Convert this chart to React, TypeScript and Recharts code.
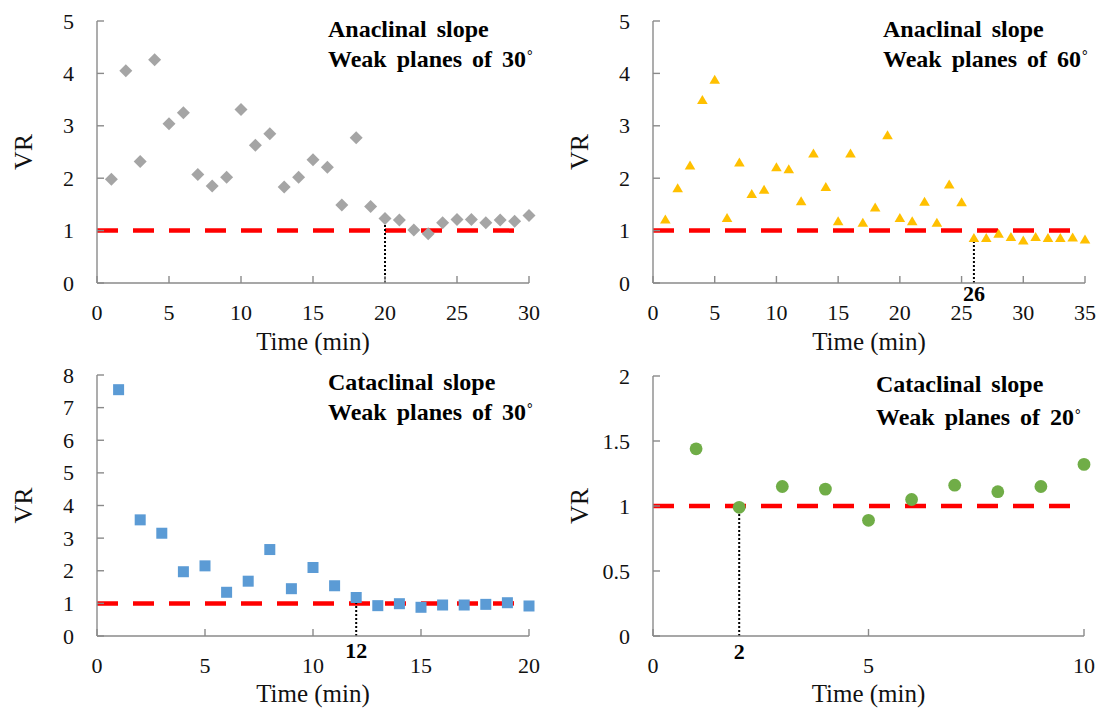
import React from 'react';
import { ScatterChart, Scatter, XAxis, YAxis, ReferenceLine, Label } from 'recharts';

const FONT = '"Liberation Serif", "Times New Roman", Times, serif';

// ---- Panel A: anaclinal slope, weak planes of 30°
const timeA = [1, 2, 3, 4, 5, 6, 7, 8, 9, 10, 11, 12, 13, 14, 15, 16, 17, 18, 19, 20, 21, 22, 23, 24, 25, 26, 27, 28, 29, 30];
const vrA = [1.98, 4.05, 2.32, 4.26, 3.04, 3.25, 2.07, 1.85, 2.02, 3.31, 2.63, 2.85, 1.83, 2.02, 2.35, 2.21, 1.49, 2.77, 1.46, 1.23, 1.2, 1.01, 0.94, 1.15, 1.21, 1.21, 1.15, 1.2, 1.18, 1.29];
const xTicksA = [0, 5, 10, 15, 20, 25, 30];
const yTicksA = [0, 1, 2, 3, 4, 5];

// ---- Panel B: anaclinal slope, weak planes of 60°
const timeB = [1, 2, 3, 4, 5, 6, 7, 8, 9, 10, 11, 12, 13, 14, 15, 16, 17, 18, 19, 20, 21, 22, 23, 24, 25, 26, 27, 28, 29, 30, 31, 32, 33, 34, 35];
const vrB = [1.21, 1.81, 2.24, 3.49, 3.88, 1.24, 2.3, 1.7, 1.78, 2.21, 2.17, 1.56, 2.47, 1.83, 1.18, 2.47, 1.15, 1.44, 2.82, 1.24, 1.18, 1.55, 1.15, 1.88, 1.54, 0.86, 0.86, 0.94, 0.88, 0.81, 0.88, 0.86, 0.86, 0.87, 0.83];
const xTicksB = [0, 5, 10, 15, 20, 25, 30, 35];
const yTicksB = [0, 1, 2, 3, 4, 5];

// ---- Panel C: cataclinal slope, weak planes of 30°
const timeC = [1, 2, 3, 4, 5, 6, 7, 8, 9, 10, 11, 12, 13, 14, 15, 16, 17, 18, 19, 20];
const vrC = [7.55, 3.56, 3.15, 1.97, 2.15, 1.34, 1.68, 2.65, 1.45, 2.1, 1.54, 1.18, 0.93, 0.99, 0.88, 0.95, 0.95, 0.97, 1.02, 0.92];
const xTicksC = [0, 5, 10, 15, 20];
const yTicksC = [0, 1, 2, 3, 4, 5, 6, 7, 8];

// ---- Panel D: cataclinal slope, weak planes of 20°
const timeD = [1, 2, 3, 4, 5, 6, 7, 8, 9, 10];
const vrD = [1.44, 0.99, 1.15, 1.13, 0.89, 1.05, 1.16, 1.11, 1.15, 1.32];
const xTicksD = [0, 5, 10];
const yTicksD = [0, 0.5, 1, 1.5, 2];

const THRESHOLD = 1;
const AXIS_GRAY = '#8a8a8a';
const TICK_LEN = 7;

const diamond = (p: any) => (
  <path d={`M${p.cx},${p.cy - 6.5}L${p.cx + 6.5},${p.cy}L${p.cx},${p.cy + 6.5}L${p.cx - 6.5},${p.cy}Z`} fill="#A5A5A5" />
);
const triangle = (p: any) => (
  <path d={`M${p.cx},${p.cy - 5}L${p.cx + 5.3},${p.cy + 4}L${p.cx - 5.3},${p.cy + 4}Z`} fill="#FFC000" />
);
const square = (p: any) => (
  <rect x={p.cx - 5.5} y={p.cy - 5.5} width={11} height={11} fill="#5B9BD5" />
);
const circle = (p: any) => <circle cx={p.cx} cy={p.cy} r={6.4} fill="#70AD47" />;

type PanelProps = {
  left: number;
  top: number;
  width: number;
  height: number;
  plotTop: number;
  plotHeight: number;
  yAxisWidth: number;
  rightMargin: number;
  xs: number[];
  ys: number[];
  xTicks: number[];
  yTicks: number[];
  shape: any;
  cutX: number;
  cutY: number;
  cutLabel?: string;
  cutLabelOffset?: number;
  titleA: string;
  titleB: string;
  titleLeft: number;
  titleTop: number;
  titleLH: number;
  xTitleBase: number;
};

function Panel(pp: PanelProps) {
  const data = pp.xs.map((x, i) => ({ x, y: pp.ys[i] }));
  const xAxisHeight = pp.height - pp.plotTop - pp.plotHeight;
  const axisY = pp.plotTop + pp.plotHeight;
  const axisX = pp.yAxisWidth;

  // x tick: inward tick mark plus label below the axis
  const XTick = (p: any) => (
    <g>
      <line x1={p.x} x2={p.x} y1={axisY} y2={axisY - TICK_LEN} stroke={AXIS_GRAY} strokeWidth={1.4} />
      <text x={p.x} y={axisY + 37} textAnchor="middle" fontFamily={FONT} fontSize={22} fill="#111">
        {p.payload.value}
      </text>
    </g>
  );

  // y tick: inward tick mark plus label left of the axis
  const YTick = (p: any) => (
    <g>
      <line x1={axisX} x2={axisX + TICK_LEN} y1={p.y} y2={p.y} stroke={AXIS_GRAY} strokeWidth={1.4} />
      <text x={axisX - 23} y={p.y + 7.5} textAnchor="end" fontFamily={FONT} fontSize={22} fill="#111">
        {p.payload.value}
      </text>
    </g>
  );

  return (
    <div style={{ position: 'absolute', left: pp.left, top: pp.top, width: pp.width, height: pp.height }}>
      <ScatterChart
        width={pp.width}
        height={pp.height}
        margin={{ top: pp.plotTop, right: pp.rightMargin, bottom: 0, left: 0 }}
      >
        <XAxis
          type="number"
          dataKey="x"
          domain={[pp.xTicks[0], pp.xTicks[pp.xTicks.length - 1]]}
          ticks={pp.xTicks}
          interval={0}
          height={xAxisHeight}
          axisLine={{ stroke: AXIS_GRAY, strokeWidth: 1.4 }}
          tickLine={false}
          tickSize={0}
          tickMargin={22}
          tick={XTick}
        >
          <Label
            content={(lp: any) => {
              const vb = lp.viewBox || {};
              return (
                <text
                  x={vb.x + vb.width / 2}
                  y={axisY + pp.xTitleBase}
                  textAnchor="middle"
                  fontFamily={FONT}
                  fontSize={25}
                  fill="#111"
                >
                  Time (min)
                </text>
              );
            }}
          />
        </XAxis>
        <YAxis
          type="number"
          dataKey="y"
          domain={[pp.yTicks[0], pp.yTicks[pp.yTicks.length - 1]]}
          ticks={pp.yTicks}
          interval={0}
          width={pp.yAxisWidth}
          axisLine={{ stroke: AXIS_GRAY, strokeWidth: 1.4 }}
          tickLine={false}
          tickSize={0}
          tickMargin={23}
          tick={YTick}
        >
          <Label
            content={(lp: any) => {
              const vb = lp.viewBox || {};
              const cx = axisX - 74;
              const cy = vb.y + vb.height / 2;
              return (
                <text
                  x={cx}
                  y={cy}
                  transform={`rotate(-90, ${cx}, ${cy})`}
                  textAnchor="middle"
                  dominantBaseline="central"
                  fontFamily={FONT}
                  fontSize={26}
                  fill="#111"
                >
                  VR
                </text>
              );
            }}
          />
        </YAxis>
        <Scatter data={data} shape={pp.shape} isAnimationActive={false} />
        <ReferenceLine
          y={THRESHOLD}
          stroke="#FF0000"
          strokeWidth={4.5}
          strokeDasharray="21 15"
        />
        <ReferenceLine
          segment={[
            { x: pp.cutX, y: 0 },
            { x: pp.cutX, y: pp.cutY },
          ]}
          stroke="#000"
          strokeWidth={2}
          strokeDasharray="2 2"
          label={
            pp.cutLabel
              ? (lp: any) => {
                  const vb = lp.viewBox || {};
                  const x = vb.x !== undefined ? vb.x + (vb.width || 0) / 2 : vb.x1;
                  return (
                    <text
                      x={x}
                      y={axisY + (pp.cutLabelOffset || 0)}
                      textAnchor="middle"
                      fontFamily={FONT}
                      fontSize={22}
                      fontWeight="bold"
                      fill="#000"
                    >
                      {pp.cutLabel}
                    </text>
                  );
                }
              : undefined
          }
        />
      </ScatterChart>
      <div
        style={{
          position: 'absolute',
          left: pp.titleLeft,
          top: pp.titleTop,
          fontFamily: FONT,
          fontWeight: 'bold',
          fontSize: 24,
          lineHeight: `${pp.titleLH}px`,
          color: '#000',
          whiteSpace: 'nowrap',
          wordSpacing: 4,
        }}
      >
        <div>{pp.titleA}</div>
        <div>
          {pp.titleB}
          <span style={{ fontSize: 14, verticalAlign: 'top', position: 'relative', top: -3, marginLeft: 1 }}>°</span>
        </div>
      </div>
    </div>
  );
}

export default function App() {
  return (
    <div
      style={{
        position: 'absolute',
        left: 0,
        top: 0,
        width: 1104,
        height: 711,
        background: '#fff',
        overflow: 'hidden',
      }}
    >
      <Panel
        left={0}
        top={0}
        width={552}
        height={355}
        plotTop={21}
        plotHeight={262}
        yAxisWidth={97}
        rightMargin={23}
        xs={timeA}
        ys={vrA}
        xTicks={xTicksA}
        yTicks={yTicksA}
        shape={diamond}
        cutX={20}
        cutY={1.22}
        titleA="Anaclinal slope"
        titleB="Weak planes of 30"
        titleLeft={328}
        titleTop={14}
        titleLH={30}
        xTitleBase={67}
      />
      <Panel
        left={552}
        top={0}
        width={552}
        height={355}
        plotTop={21}
        plotHeight={262}
        yAxisWidth={101}
        rightMargin={19}
        xs={timeB}
        ys={vrB}
        xTicks={xTicksB}
        yTicks={yTicksB}
        shape={triangle}
        cutX={26}
        cutY={0.86}
        cutLabel="26"
        cutLabelOffset={18}
        titleA="Anaclinal slope"
        titleB="Weak planes of 60"
        titleLeft={331}
        titleTop={14}
        titleLH={30}
        xTitleBase={67}
      />
      <Panel
        left={0}
        top={355}
        width={552}
        height={356}
        plotTop={20}
        plotHeight={261}
        yAxisWidth={97}
        rightMargin={23}
        xs={timeC}
        ys={vrC}
        xTicks={xTicksC}
        yTicks={yTicksC}
        shape={square}
        cutX={12}
        cutY={1.18}
        cutLabel="12"
        cutLabelOffset={22}
        titleA="Cataclinal slope"
        titleB="Weak planes of 30"
        titleLeft={328}
        titleTop={12}
        titleLH={30}
        xTitleBase={66}
      />
      <Panel
        left={552}
        top={355}
        width={552}
        height={356}
        plotTop={21}
        plotHeight={260}
        yAxisWidth={101}
        rightMargin={20}
        xs={timeD}
        ys={vrD}
        xTicks={xTicksD}
        yTicks={yTicksD}
        shape={circle}
        cutX={2}
        cutY={0.99}
        cutLabel="2"
        cutLabelOffset={23}
        titleA="Cataclinal slope"
        titleB="Weak planes of 20"
        titleLeft={324}
        titleTop={13}
        titleLH={33}
        xTitleBase={66}
      />
    </div>
  );
}
